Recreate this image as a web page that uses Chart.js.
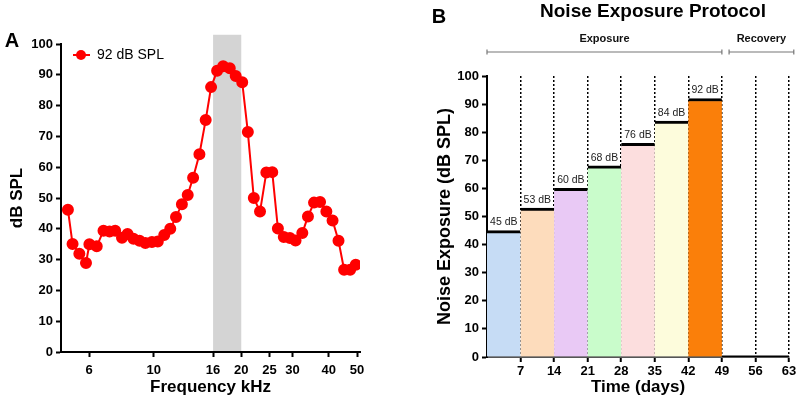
<!DOCTYPE html>
<html>
<head>
<meta charset="utf-8">
<script src="https://cdn.jsdelivr.net/npm/chart.js@4"></script>
<style>
  html, body { margin: 0; padding: 0; background: #fff; overflow: hidden; }
  #wrapA { position: absolute; left: 0; top: 0; width: 395px; height: 402px; }
  #wrapB { position: absolute; left: 400px; top: 0; width: 400px; height: 402px; }
</style>
</head>
<body>
<div id="wrapA"><canvas id="chartA"></canvas></div>
<div id="wrapB"><canvas id="chartB"></canvas></div>
<script>
// ---- Panel A: spectrum of the 92 dB SPL noise ----
const freqKHz = [5.07, 5.26, 5.55, 5.85, 6.01, 6.37, 6.72, 7.05, 7.37, 7.78,
                 8.13, 8.52, 8.94, 9.36, 9.86, 10.33, 10.87, 11.40, 11.93, 12.50,
                 13.09, 13.66, 14.36, 15.09, 15.75, 16.52, 17.33, 18.26, 19.14, 20.15,
                 21.07, 22.09, 23.20, 24.39, 25.56, 26.73, 28.01, 29.39, 30.74, 32.43,
                 33.91, 35.58, 37.32, 39.23, 41.20, 43.19, 45.15, 47.36, 49.50];
const splDb = [46.2, 35.1, 31.9, 28.9, 35.0, 34.3, 39.4, 39.1, 39.4, 37.1,
               38.3, 36.8, 36.1, 35.4, 35.7, 35.9, 38.0, 40.0, 43.8, 48.0,
               51.0, 56.6, 64.2, 75.3, 86.0, 91.3, 92.8, 92.1, 89.6, 87.6,
               71.4, 50.0, 45.6, 58.3, 58.4, 40.1, 37.3, 37.0, 36.2, 38.6,
               44.0, 48.5, 48.7, 45.6, 42.7, 36.1, 26.7, 26.7, 28.3];
const freqTicks = [6, 10, 16, 20, 25, 30, 40, 50];
const bandKHz = [16, 20];   // shaded octave band
const bandTop = 103;

// ---- Panel B: exposure protocol ----
const weekStart = [0, 7, 14, 21, 28, 35, 42];
const exposureDb = [45, 53, 60, 68, 76, 84, 92];
const weekColors = ['#c6dcf5', '#fddcbc', '#e9c9f5', '#c9fccb', '#fcdede', '#fdfcdc', '#fa7f0a'];
const dayTicks = [7, 14, 21, 28, 35, 42, 49, 56, 63];
const recoveryDays = [49, 63];
const recoveryDb = [0, 0];
const phaseNames = ['Exposure', 'Recovery'];
const phaseFrom = [0, 50.5];
const phaseTo = [49, 64];

Chart.defaults.font.family = 'Arial, "Liberation Sans", sans-serif';
Chart.defaults.color = '#000';

const bold13 = { size: 13, weight: 'bold' };

// panel letter ("A", "B") and optional heading
const panelText = {
  id: 'panelText',
  afterDraw(chart, args, opts) {
    const ctx = chart.ctx;
    ctx.save();
    ctx.fillStyle = '#000';
    ctx.textAlign = 'center';
    ctx.textBaseline = 'middle';
    ctx.font = 'bold 20px Arial, "Liberation Sans", sans-serif';
    ctx.fillText(opts.letter, opts.lx, opts.ly);
    if (opts.heading) {
      ctx.font = 'bold 19px Arial, "Liberation Sans", sans-serif';
      ctx.fillText(opts.heading, opts.hx, opts.hy);
    }
    ctx.restore();
  }
};

// grey frequency band behind the curve
const bandPlugin = {
  id: 'band',
  beforeDraw(chart) {
    const { ctx, scales: { x, y } } = chart;
    const x0 = x.getPixelForValue(bandKHz[0]);
    const x1 = x.getPixelForValue(bandKHz[1]);
    const yt = y.getPixelForValue(bandTop);
    const yb = y.getPixelForValue(0);
    ctx.save();
    ctx.fillStyle = '#d4d4d4';
    ctx.fillRect(x0, yt, x1 - x0, yb - yt);
    ctx.restore();
  }
};

// legend inside the plot: line + dot + label
const insideLegend = {
  id: 'insideLegend',
  afterDraw(chart) {
    const ds = chart.data.datasets[0];
    const { ctx, chartArea: a } = chart;
    const cx = a.left + 20, cy = a.top + 11;
    ctx.save();
    ctx.strokeStyle = ds.borderColor;
    ctx.fillStyle = ds.backgroundColor;
    ctx.lineWidth = 2;
    ctx.beginPath();
    ctx.moveTo(cx - 8, cy);
    ctx.lineTo(cx + 9, cy);
    ctx.stroke();
    ctx.beginPath();
    ctx.arc(cx, cy, 5, 0, Math.PI * 2);
    ctx.fill();
    ctx.fillStyle = '#000';
    ctx.font = '14px Arial, "Liberation Sans", sans-serif';
    ctx.textBaseline = 'middle';
    ctx.fillText(ds.label, a.left + 36, cy);
    ctx.restore();
  }
};

new Chart(document.getElementById('chartA'), {
  type: 'line',
  data: {
    datasets: [{
      label: '92 dB SPL',
      data: freqKHz.map((f, i) => ({ x: f, y: splDb[i] })),
      borderColor: '#ff0000',
      backgroundColor: '#ff0000',
      borderWidth: 2,
      pointRadius: 5,
      pointHoverRadius: 5,
      tension: 0
    }]
  },
  options: {
    responsive: true,
    maintainAspectRatio: false,
    animation: false,
    layout: { padding: { top: 44, right: 35, left: 0, bottom: 0 } },
    plugins: {
      legend: { display: false },
      tooltip: { enabled: false },
      panelText: { letter: 'A', lx: 12, ly: 41 }
    },
    scales: {
      x: {
        type: 'logarithmic',
        min: 4.8,
        max: 51.2,
        bounds: 'data',
        afterBuildTicks: s => { s.ticks = freqTicks.map(v => ({ value: v })); },
        afterFit: s => { s.height = 50; },
        grid: { drawOnChartArea: false, tickLength: 5, tickColor: '#000', tickWidth: 2 },
        border: { color: '#000', width: 2 },
        ticks: { autoSkip: false, maxRotation: 0, padding: 6, font: bold13, callback: v => String(v) },
        title: { display: true, text: 'Frequency kHz', font: { size: 17, weight: 'bold' }, padding: { top: 0, bottom: 4 } }
      },
      y: {
        min: 0,
        max: 100,
        afterFit: s => { s.width = 61; },
        grid: { drawOnChartArea: false, tickLength: 5, tickColor: '#000', tickWidth: 2 },
        border: { color: '#000', width: 2 },
        ticks: { stepSize: 10, padding: 3, font: bold13 },
        title: { display: true, text: 'dB SPL', font: { size: 17, weight: 'bold' }, padding: { top: 7, bottom: 0 } }
      }
    }
  },
  plugins: [bandPlugin, insideLegend, panelText]
});

// value labels above each week's bar
const barLabels = {
  id: 'barLabels',
  afterDatasetsDraw(chart) {
    const { ctx } = chart;
    const meta = chart.getDatasetMeta(0);
    ctx.save();
    ctx.fillStyle = '#222';
    ctx.font = '10.5px Arial, "Liberation Sans", sans-serif';
    ctx.textAlign = 'center';
    ctx.textBaseline = 'middle';
    meta.data.forEach((bar, i) => {
      ctx.fillText(exposureDb[i] + ' dB', bar.x, bar.y - 8);
    });
    ctx.restore();
  }
};

// "Exposure" / "Recovery" brackets above the plot
const phaseBrackets = {
  id: 'phaseBrackets',
  afterDraw(chart) {
    const { ctx, scales: { x } } = chart;
    const yLine = 52, yText = 39;
    ctx.save();
    ctx.strokeStyle = '#777';
    ctx.lineWidth = 1.2;
    ctx.fillStyle = '#111';
    ctx.font = 'bold 11px Arial, "Liberation Sans", sans-serif';
    ctx.textAlign = 'center';
    ctx.textBaseline = 'middle';
    phaseNames.forEach((name, i) => {
      const x0 = x.getPixelForValue(phaseFrom[i]);
      const x1 = x.getPixelForValue(phaseTo[i]);
      ctx.beginPath();
      ctx.moveTo(x0, yLine); ctx.lineTo(x1, yLine);
      ctx.moveTo(x0, yLine - 2.5); ctx.lineTo(x0, yLine + 2.5);
      ctx.moveTo(x1, yLine - 2.5); ctx.lineTo(x1, yLine + 2.5);
      ctx.stroke();
      ctx.fillText(name, (x0 + x1) / 2, yText);
    });
    ctx.restore();
  }
};

const weekLen = 7;

new Chart(document.getElementById('chartB'), {
  data: {
    datasets: [{
      type: 'bar',
      label: 'Exposure',
      data: weekStart.map((d, i) => ({ x: d + weekLen / 2, y: exposureDb[i] })),
      backgroundColor: weekColors,
      borderColor: '#000',
      borderWidth: { top: 3, left: 0, right: 0, bottom: 0 },
      borderSkipped: false,
      barPercentage: 1,
      categoryPercentage: 1,
      order: 2
    }, {
      type: 'line',
      label: 'Recovery',
      data: recoveryDays.map((d, i) => ({ x: d, y: recoveryDb[i] })),
      borderColor: '#000',
      borderWidth: 3,
      pointRadius: 0,
      order: 1
    }]
  },
  options: {
    responsive: true,
    maintainAspectRatio: false,
    animation: false,
    layout: { padding: { top: 76, right: 11, left: 0, bottom: 0 } },
    plugins: {
      legend: { display: false },
      tooltip: { enabled: false },
      panelText: { letter: 'B', lx: 39, ly: 17, heading: 'Noise Exposure Protocol', hx: 253, hy: 12 }
    },
    scales: {
      x: {
        type: 'linear',
        min: 0,
        max: 63,
        offset: false,
        afterBuildTicks: s => { s.ticks = dayTicks.map(v => ({ value: v })); },
        afterFit: s => { s.height = 45; },
        grid: { offset: false, drawOnChartArea: true, color: '#000', lineWidth: 1.5, tickLength: 5, tickColor: '#000', tickWidth: 2 },
        border: { color: '#555', width: 2, dash: [2, 2] },
        ticks: { autoSkip: false, maxRotation: 0, padding: 2, font: bold13 },
        title: { display: true, text: 'Time (days)', font: { size: 17, weight: 'bold' }, padding: { top: 0, bottom: 4 } }
      },
      y: {
        min: 0,
        max: 100,
        afterFit: s => { s.width = 87; },
        grid: { drawOnChartArea: false, tickLength: 5, tickColor: '#000', tickWidth: 2 },
        border: { color: '#000', width: 2 },
        ticks: { stepSize: 10, padding: 3, font: bold13 },
        title: { display: true, text: 'Noise Exposure (dB SPL)', font: { size: 18, weight: 'bold' }, padding: { top: 34, bottom: 0 } }
      }
    }
  },
  plugins: [barLabels, phaseBrackets, panelText]
});
</script>
</body>
</html>
